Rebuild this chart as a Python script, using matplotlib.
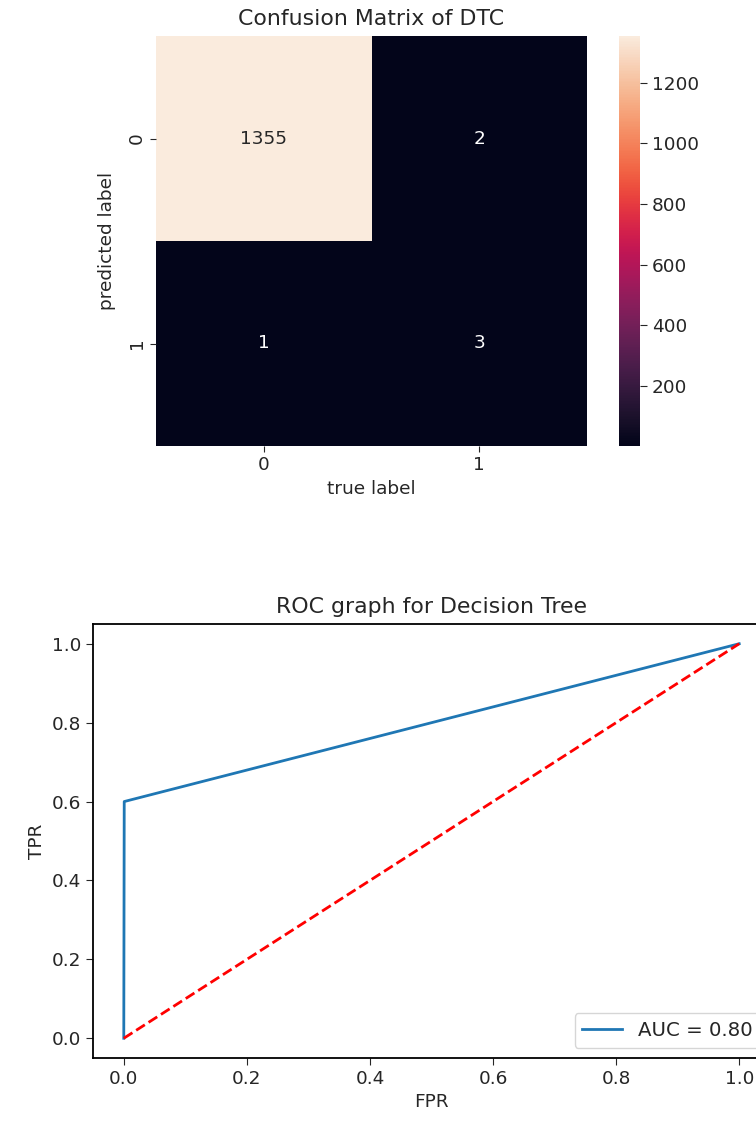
import numpy as np
import matplotlib
matplotlib.use("Agg")
import matplotlib.pyplot as plt
import seaborn as sns

# Confusion matrix (rows: predicted label, columns: true label)
class_labels = ["0", "1"]
confusion = np.array([[1355, 2],
                      [1, 3]])

# ROC curve points for the decision tree
fpr = [0.0, 1 / 1356, 1.0]
tpr = [0.0, 0.6, 1.0]
chance = [0.0, 1.0]

W, H = 756, 1121
fig = plt.figure(figsize=(W / 100, H / 100), dpi=100)


def rect(x0, y0, x1, y1):
    return [x0 / W, 1 - y1 / H, (x1 - x0) / W, (y1 - y0) / H]


fs = 13.3
tfs = 15.8
txt = "#262626"
plt.rcParams["text.color"] = txt
plt.rcParams["axes.labelcolor"] = txt
plt.rcParams["xtick.color"] = txt
plt.rcParams["ytick.color"] = txt

# --- heatmap ---
ax_hm = fig.add_axes(rect(156, 36, 587, 446))
ax_cb = fig.add_axes(rect(619, 36, 640, 446))
sns.heatmap(confusion, annot=True, fmt="d", ax=ax_hm, cbar_ax=ax_cb,
            xticklabels=class_labels, yticklabels=class_labels,
            annot_kws={"fontsize": fs})
ax_hm.set_title("Confusion Matrix of DTC", fontsize=tfs, pad=8)
ax_hm.set_xlabel("true label", fontsize=fs)
ax_hm.set_ylabel("predicted label", fontsize=fs, labelpad=8)
ax_hm.tick_params(labelsize=fs, length=4)
ax_cb.tick_params(labelsize=fs, length=5)

# --- ROC curve ---
auc = np.trapezoid(tpr, fpr)
ax_roc = fig.add_axes(rect(93, 624, 770, 1058))
ax_roc.plot(fpr, tpr, color="#1f77b4", lw=2, label=f"AUC = {auc:.2f}")
ax_roc.plot(chance, chance, "r--", lw=2)
ax_roc.set_title("ROC graph for Decision Tree", fontsize=tfs, pad=8)
ax_roc.set_xlabel("FPR", fontsize=fs)
ax_roc.set_ylabel("TPR", fontsize=fs)
ax_roc.tick_params(labelsize=fs, length=5)
for s in ax_roc.spines.values():
    s.set_linewidth(1.3)
ax_roc.legend(loc="lower right", fontsize=14.2)

fig.savefig("out.png", dpi=100)
